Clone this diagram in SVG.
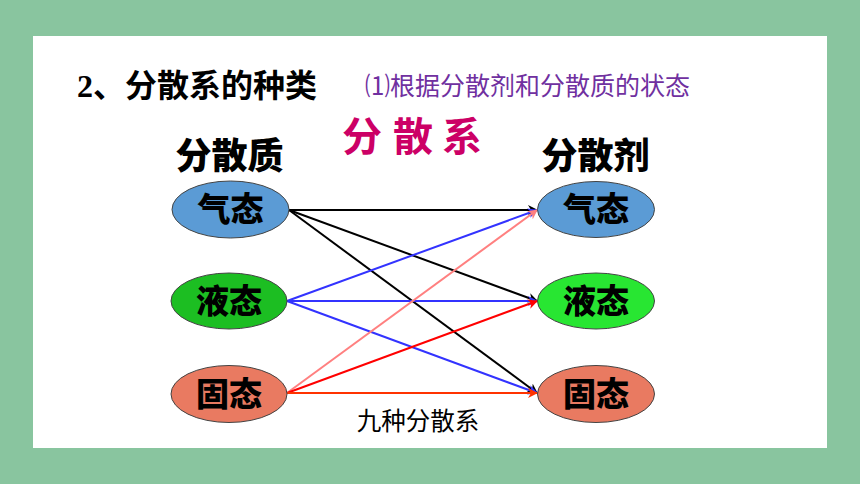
<svg xmlns="http://www.w3.org/2000/svg" width="860" height="484" viewBox="0 0 860 484">
<defs>
<style>
.cjk{font-family:"Noto Sans CJK SC","Noto Sans",sans-serif;}
.lbl{font-family:"Noto Sans CJK SC",sans-serif;font-weight:900;font-size:33px;fill:#000;text-anchor:middle;}
.node{stroke:#444;stroke-width:1;}
.conn{stroke-width:2;fill:none;}
</style>
<marker id="aK" viewBox="0 0 10 10" refX="9" refY="5" markerWidth="5" markerHeight="5" orient="auto" markerUnits="strokeWidth"><path d="M0,0 L10,5 L0,10 L3,5 z" fill="#000"/></marker>
<marker id="aB" viewBox="0 0 10 10" refX="9" refY="5" markerWidth="5" markerHeight="5" orient="auto" markerUnits="strokeWidth"><path d="M0,0 L10,5 L0,10 L3,5 z" fill="#3333FF"/></marker>
<marker id="aP" viewBox="0 0 10 10" refX="9" refY="5" markerWidth="5" markerHeight="5" orient="auto" markerUnits="strokeWidth"><path d="M0,0 L10,5 L0,10 L3,5 z" fill="#FF8080"/></marker>
<marker id="aR" viewBox="0 0 10 10" refX="9" refY="5" markerWidth="5" markerHeight="5" orient="auto" markerUnits="strokeWidth"><path d="M0,0 L10,5 L0,10 L3,5 z" fill="#FF0000"/></marker>
<marker id="aO" viewBox="0 0 10 10" refX="9" refY="5" markerWidth="5" markerHeight="5" orient="auto" markerUnits="strokeWidth"><path d="M0,0 L10,5 L0,10 L3,5 z" fill="#FF3300"/></marker>
</defs>
<rect x="0" y="0" width="860" height="484" fill="#89C59F"/>
<rect x="33" y="36" width="794" height="412" fill="#FFFFFF"/>

<text x="77" y="97" font-size="32" font-weight="bold" fill="#000"><tspan font-family="Liberation Serif,serif">2</tspan><tspan class="cjk">、分散系的种类</tspan></text>
<text x="365" y="95" class="cjk" font-size="25" fill="#7030A0">⑴根据分散剂和分散质的状态</text>
<g class="cjk" font-size="40" font-weight="bold" fill="#CC0066" text-anchor="middle">
<text x="362" y="151">分</text><text x="413" y="151">散</text><text x="462" y="151">系</text>
</g>
<text x="229.5" y="169" class="cjk" font-size="36" font-weight="900" fill="#000" text-anchor="middle">分散质</text>
<text x="595.5" y="169" class="cjk" font-size="36" font-weight="900" fill="#000" text-anchor="middle">分散剂</text>

<g id="connectors">
<line class="conn" x1="289" y1="210" x2="537" y2="210" stroke="#000" marker-end="url(#aK)"/>
<line class="conn" x1="289" y1="210" x2="537" y2="301" stroke="#000" marker-end="url(#aK)"/>
<line class="conn" x1="289" y1="210" x2="537" y2="393" stroke="#000" marker-end="url(#aK)"/>
<line class="conn" x1="287" y1="301" x2="537" y2="210" stroke="#3333FF" marker-end="url(#aB)"/>
<line class="conn" x1="287" y1="301" x2="537" y2="301" stroke="#3333FF" marker-end="url(#aB)"/>
<line class="conn" x1="287" y1="301" x2="537" y2="393" stroke="#3333FF" marker-end="url(#aB)"/>
<line class="conn" x1="287" y1="393" x2="537" y2="210" stroke="#FF8080" marker-end="url(#aP)"/>
<line class="conn" x1="287" y1="393" x2="537" y2="301" stroke="#FF0000" marker-end="url(#aR)"/>
<line class="conn" x1="287" y1="393" x2="537" y2="393" stroke="#FF3300" marker-end="url(#aO)"/>
</g>

<g id="l-gas"><ellipse class="node" cx="230.5" cy="209.5" rx="58.5" ry="28.5" fill="#5B9BD5"/><text class="lbl" x="230.5" y="221">气态</text></g>
<g id="l-liq"><ellipse class="node" cx="229" cy="301" rx="58" ry="28" fill="#1CBE22"/><text class="lbl" x="229" y="313">液态</text></g>
<g id="l-sol"><ellipse class="node" cx="229" cy="394" rx="58" ry="28.5" fill="#E97A61"/><text class="lbl" x="229" y="406">固态</text></g>
<g id="r-gas"><ellipse class="node" cx="596" cy="209.5" rx="58.5" ry="28" fill="#5B9BD5"/><text class="lbl" x="596" y="221">气态</text></g>
<g id="r-liq"><ellipse class="node" cx="596" cy="301" rx="58.5" ry="28" fill="#28E632"/><text class="lbl" x="596" y="313">液态</text></g>
<g id="r-sol"><ellipse class="node" cx="596" cy="394" rx="58.5" ry="28.5" fill="#E97A61"/><text class="lbl" x="596" y="406">固态</text></g>

<text x="418" y="430" class="cjk" font-size="24.5" fill="#000" text-anchor="middle">九种分散系</text>
</svg>
